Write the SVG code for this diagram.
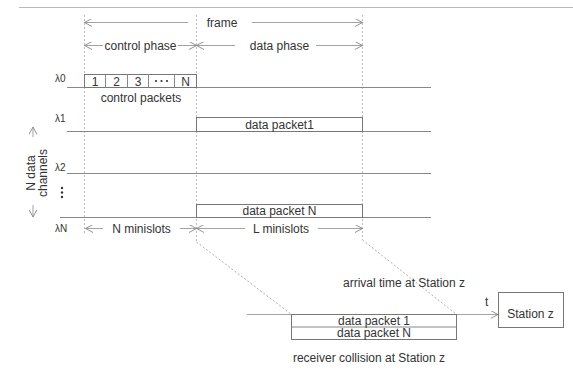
<svg xmlns="http://www.w3.org/2000/svg" width="573" height="372" viewBox="0 0 573 372">
<defs>
<marker id="ah" viewBox="0 0 8 8" refX="7.5" refY="4" markerWidth="8" markerHeight="8" markerUnits="userSpaceOnUse" orient="auto-start-reverse">
<path d="M0,0 L7.5,4 L0,8" fill="none" stroke="#888" stroke-width="0.9"/>
</marker>
</defs>
<style>
text{font-family:"Liberation Sans",Arial,sans-serif;font-size:12px;fill:#333;}
.t{text-anchor:middle;}
.lam{font-size:10px;}
.ch{stroke:#888;stroke-width:1;fill:none;}
.box{stroke:#777;stroke-width:1;fill:#fff;}
.dot{stroke:#bbb;stroke-width:1;stroke-dasharray:2,2;fill:none;}
.dia{stroke:#999;stroke-width:0.8;stroke-dasharray:2,2;fill:none;}
.ar{stroke:#999;stroke-width:0.9;fill:none;}
</style>
<rect width="573" height="372" fill="#fff"/>
<line x1="19" y1="7.5" x2="573" y2="7.5" stroke="#bbb" stroke-width="1"/>

<g id="connectors">
<path class="dot" d="M84.5,15 V235"/>
<path class="dot" d="M196.5,15 V242"/>
<path class="dot" d="M362.5,15 V240"/>
<path class="dia" d="M196.5,242 L291,314"/>
<path class="dia" d="M362.5,240 L456,314"/>
<!-- frame -->
<line class="ar" x1="84.5" y1="22.5" x2="188" y2="22.5" marker-start="url(#ah)"/>
<line class="ar" x1="252" y1="22.5" x2="362.5" y2="22.5" marker-end="url(#ah)"/>
<!-- control phase -->
<line class="ar" x1="84.5" y1="45.5" x2="103" y2="45.5" marker-start="url(#ah)"/>
<line class="ar" x1="178" y1="45.5" x2="196.5" y2="45.5" marker-end="url(#ah)"/>
<line class="ar" x1="196.5" y1="45.5" x2="235" y2="45.5" marker-start="url(#ah)"/>
<line class="ar" x1="316" y1="45.5" x2="362.5" y2="45.5" marker-end="url(#ah)"/>
<!-- minislots -->
<line class="ar" x1="85.5" y1="228.5" x2="103" y2="228.5" marker-start="url(#ah)"/>
<line class="ar" x1="180" y1="228.5" x2="196.5" y2="228.5" marker-end="url(#ah)"/>
<line class="ar" x1="196.5" y1="228.5" x2="245" y2="228.5" marker-start="url(#ah)"/>
<line class="ar" x1="318" y1="228.5" x2="362.5" y2="228.5" marker-end="url(#ah)"/>
<!-- N data channels arrows -->
<line class="ar" x1="33" y1="137" x2="33" y2="127" marker-end="url(#ah)"/>
<line class="ar" x1="33" y1="205" x2="33" y2="217" marker-end="url(#ah)"/>
<!-- time axis -->
<line class="ar" x1="247" y1="314.5" x2="498" y2="314.5" marker-end="url(#ah)"/>
</g>

<g id="labels">
<text class="t" x="222" y="26.5">frame</text>
<text class="t" x="140.5" y="49.5">control phase</text>
<text class="t" x="279.5" y="49.5">data phase</text>
<text class="t" x="141.5" y="232.5">N minislots</text>
<text class="t" x="281" y="232.5">L minislots</text>
<text transform="translate(35,173) rotate(-90)" class="t">N data</text>
<text transform="translate(46.5,173) rotate(-90)" class="t">channels</text>
<text class="lam" x="55" y="82">λ0</text>
<text class="lam" x="55" y="122">λ1</text>
<text class="lam" x="55" y="171">λ2</text>
<text class="lam" x="55" y="232">λN</text>
<circle cx="62" cy="188" r="1.2" fill="#333"/>
<circle cx="62" cy="192.5" r="1.2" fill="#333"/>
<circle cx="62" cy="197" r="1.2" fill="#333"/>
</g>

<g id="channel-lines">
<line class="ch" x1="67" y1="87.5" x2="431" y2="87.5"/>
<line class="ch" x1="67" y1="131.5" x2="431" y2="131.5"/>
<line class="ch" x1="67" y1="173.5" x2="431" y2="173.5"/>
<line class="ch" x1="60" y1="217.5" x2="431" y2="217.5"/>
</g>

<g id="control-packets">
<rect class="box" x="84.5" y="74.5" width="112" height="13"/>
<line class="ch" x1="105.5" y1="74.5" x2="105.5" y2="87.5"/>
<line class="ch" x1="127.5" y1="74.5" x2="127.5" y2="87.5"/>
<line class="ch" x1="148.5" y1="74.5" x2="148.5" y2="87.5"/>
<line class="ch" x1="174.5" y1="74.5" x2="174.5" y2="87.5"/>
<text class="t" x="95" y="85.5">1</text>
<text class="t" x="116.5" y="85.5">2</text>
<text class="t" x="138" y="85.5">3</text>
<circle cx="156" cy="81" r="1.1" fill="#333"/>
<circle cx="161.5" cy="81" r="1.1" fill="#333"/>
<circle cx="167" cy="81" r="1.1" fill="#333"/>
<text class="t" x="185.5" y="85.5">N</text>
<text class="t" x="141" y="102">control packets</text>
</g>

<g id="data-packet1">
<rect class="box" x="196.5" y="117.5" width="166" height="14"/>
<text class="t" x="279.5" y="128.5">data packet1</text>
</g>

<g id="data-packetN">
<rect class="box" x="196.5" y="204.5" width="166" height="13"/>
<text class="t" x="279.5" y="215">data packet N</text>
</g>

<g id="collision">
<text class="t" x="404" y="287">arrival time at Station z</text>
<rect class="box" x="291.5" y="314.5" width="165" height="25"/>
<line class="ch" x1="291.5" y1="327" x2="456.5" y2="327"/>
<text class="t" x="374" y="324.5">data packet 1</text>
<text class="t" x="374" y="337">data packet N</text>
<text x="485" y="306">t</text>
<text class="t" x="369" y="362">receiver collision at Station z</text>
</g>

<g id="station-z">
<rect class="box" x="498.5" y="292.5" width="65" height="35"/>
<text class="t" x="530.5" y="318">Station z</text>
</g>
</svg>
